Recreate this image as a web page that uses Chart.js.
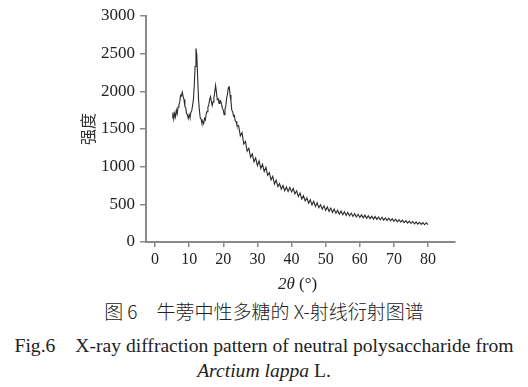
<!DOCTYPE html>
<html>
<head>
<meta charset="utf-8">
<script src="https://cdn.jsdelivr.net/npm/chart.js@4"></script>
<style>
  body { margin: 0; background: #fff; }
  #wrap { position: relative; width: 528px; height: 387px; overflow: hidden; }
  #myChart { position: absolute; left: 0; top: 0; }
  .cap { position: absolute; left: 0; width: 528px; text-align: center; color: #222; white-space: nowrap; }
  #xtitle { position: absolute; left: 278px; top: 274px; font-family: "Liberation Serif", serif; font-size: 17px; color: #222; }
</style>
</head>
<body>
<div id="wrap">
  <canvas id="myChart" width="528" height="290"></canvas>
  <div id="xtitle"><i>2θ</i> (°)</div>
  <div class="cap" style="top:297px;font-family:'Noto Sans CJK SC',sans-serif;font-weight:300;font-size:19px;">图 6　牛蒡中性多糖的 X-射线衍射图谱</div>
  <div class="cap" style="top:332px;font-family:'Liberation Serif',serif;font-size:19.6px;">Fig.6　X-ray diffraction pattern of neutral polysaccharide from</div>
  <div class="cap" style="top:360px;font-family:'Liberation Serif',serif;font-size:19.6px;"><i>Arctium lappa</i> L.</div>
</div>
<script>
// datos
const twoTheta = [
  5.0, 5.25, 5.5, 5.75, 6.0, 6.25, 6.5, 6.75, 7.0, 7.25, 7.5, 7.75, 8.0, 8.25, 8.5, 8.75,
  9.0, 9.25, 9.5, 9.75, 10.0, 10.25, 10.5, 10.75, 11.0, 11.25, 11.5, 11.75, 12.0, 12.25, 12.5, 12.75,
  13.0, 13.25, 13.5, 13.75, 14.0, 14.25, 14.5, 14.75, 15.0, 15.25, 15.5, 15.75, 16.0, 16.25, 16.5, 16.75,
  17.0, 17.25, 17.5, 17.75, 18.0, 18.25, 18.5, 18.75, 19.0, 19.25, 19.5, 19.75, 20.0, 20.25, 20.5, 20.75,
  21.0, 21.25, 21.5, 21.75, 22.0, 22.25, 22.5, 22.75, 23.0, 23.25, 23.5, 23.75, 24.0,
  24.5, 25.0, 25.5, 26.0, 26.5, 27.0, 27.5, 28.0, 28.5, 29.0, 29.5, 30.0, 30.5, 31.0, 31.5, 32.0,
  32.5, 33.0, 33.5, 34.0, 34.5, 35.0, 35.5, 36.0, 36.5, 37.0, 37.5, 38.0, 38.5, 39.0, 39.5, 40.0,
  40.5, 41.0, 41.5, 42.0, 42.5, 43.0, 43.5, 44.0, 44.5, 45.0, 45.5, 46.0, 46.5, 47.0, 47.5, 48.0,
  48.5, 49.0, 49.5, 50.0, 50.5, 51.0, 51.5, 52.0, 52.5, 53.0, 53.5, 54.0, 54.5, 55.0, 55.5, 56.0,
  56.5, 57.0, 57.5, 58.0, 58.5, 59.0, 59.5, 60.0, 60.5, 61.0, 61.5, 62.0, 62.5, 63.0, 63.5, 64.0,
  64.5, 65.0, 65.5, 66.0, 66.5, 67.0, 67.5, 68.0, 68.5, 69.0, 69.5, 70.0, 70.5, 71.0, 71.5, 72.0,
  72.5, 73.0, 73.5, 74.0, 74.5, 75.0, 75.5, 76.0, 76.5, 77.0, 77.5, 78.0, 78.5, 79.0, 79.5, 80.0
];
const intensity = [
  1650, 1720, 1630, 1710, 1660, 1750, 1700, 1790, 1820, 1860, 1950, 1940, 1990, 1930, 1890, 1800,
  1780, 1700, 1690, 1640, 1690, 1650, 1720, 1740, 1810, 1890, 2080, 2330, 2570, 2480, 2180, 1900,
  1750, 1650, 1630, 1580, 1600, 1570, 1640, 1620, 1700, 1730, 1790, 1820, 1890, 1930, 1870, 1810,
  1860, 1910, 1990, 2080, 1990, 1890, 1900, 1840, 1880, 1870, 1830, 1770, 1750, 1690, 1760, 1810,
  1910, 1970, 2050, 2060, 1950, 1870, 1750, 1730, 1670, 1680, 1610, 1600, 1550,
  1545, 1410, 1450, 1300, 1335, 1205, 1245, 1125, 1170, 1065, 1115, 1015, 1075, 975, 1030, 935,
  990, 885, 920, 825, 870, 770, 820, 735, 775, 700, 750, 680, 730, 670, 725, 665,
  710, 640, 680, 605, 650, 570, 615, 545, 585, 515, 560, 490, 540, 470, 520, 455,
  495, 435, 480, 420, 465, 405, 450, 392, 436, 382, 422, 370, 412, 362, 402, 353,
  392, 346, 384, 339, 376, 332, 368, 326, 360, 320, 356, 314, 348, 310, 343, 304,
  337, 300, 332, 296, 328, 290, 320, 285, 315, 280, 310, 274, 303, 268, 297, 263,
  291, 257, 284, 251, 278, 246, 272, 241, 267, 237, 262, 233, 258, 229, 254, 230
];
const xTicks = [0, 10, 20, 30, 40, 50, 60, 70, 80];
const yTicks = [0, 500, 1000, 1500, 2000, 2500, 3000];

const ejeGris = "#8a8a8a";

function dibujar() {
    const ctx = document.getElementById('myChart').getContext('2d');
    new Chart(ctx, {
        type: "line",
        data: {
            datasets: [
                {
                    data: twoTheta.map((t, i) => ({ x: t, y: intensity[i] })),
                    borderColor: "#2a2a2a",
                    borderWidth: 1.1,
                    pointRadius: 0,
                    tension: 0,
                },
            ],
        },
        options: {
            responsive: false,
            animation: false,
            layout: {
                padding: { top: 16, right: 73, left: 0, bottom: 0 },
            },
            plugins: {
                legend: { display: false },
                tooltip: { enabled: false },
            },
            scales: {
                x: {
                    type: "linear",
                    min: -2.64,
                    max: 87.9,
                    afterBuildTicks: (scale) => { scale.ticks = xTicks.map(v => ({ value: v })); },
                    afterFit: (scale) => { scale.height = 48; },
                    border: { color: ejeGris, width: 2 },
                    grid: { display: true, drawOnChartArea: false, color: ejeGris, tickLength: 5, lineWidth: 1.5 },
                    ticks: {
                        color: "#222",
                        padding: 3,
                        maxRotation: 0,
                        callback: (v) => String(v),
                        font: { family: "Liberation Serif", size: 16 },
                    },
                },
                y: {
                    min: 0,
                    max: 3000,
                    afterBuildTicks: (scale) => { scale.ticks = yTicks.map(v => ({ value: v })); },
                    afterFit: (scale) => { scale.width = 146; },
                    border: { color: ejeGris, width: 2 },
                    grid: { display: true, drawOnChartArea: false, color: ejeGris, tickLength: 6, lineWidth: 1.5 },
                    title: {
                        display: true,
                        text: "强度",
                        color: "#333",
                        padding: { top: 78, bottom: 0 },
                        font: { family: "Noto Sans CJK SC", size: 16 },
                    },
                    ticks: {
                        color: "#222",
                        padding: 5,
                        callback: (v) => String(v),
                        font: { family: "Liberation Serif", size: 17 },
                    },
                },
            },
        },
    });
}

Promise.all([
    document.fonts.load('16px "Liberation Serif"'),
    document.fonts.load('16px "Noto Sans CJK SC"', "强度"),
]).then(dibujar, dibujar);
</script>
</body>
</html>
